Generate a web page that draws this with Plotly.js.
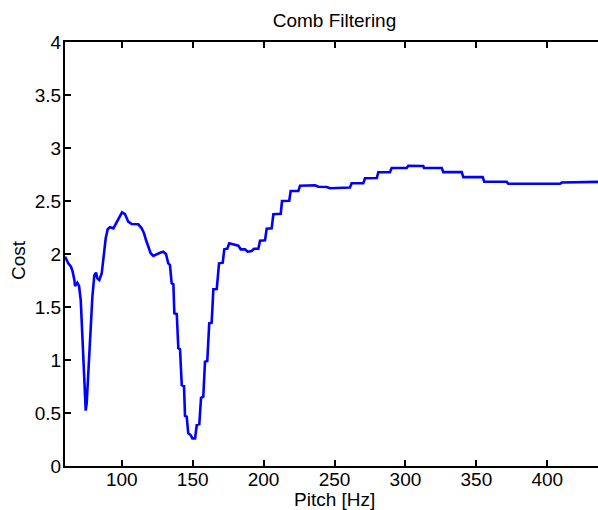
<!DOCTYPE html>
<html>
<head>
<meta charset="utf-8">
<script src="https://cdn.plot.ly/plotly-3.0.1.min.js"></script>
<style>
  html, body { margin: 0; padding: 0; overflow: hidden; background: #fff; }
  #chart { width: 606px; height: 510px; }
</style>
</head>
<body>
<div id="chart"></div>
<script>
// Pitch (Hz)
const pitch = [60.0, 62.3, 64.2, 65.4, 66.6, 67.1, 68.7, 69.9, 71.1, 71.8, 72.9, 73.9, 74.6, 75.3, 76.0, 77.1, 78.3, 79.3, 80.7, 81.9,
  82.8, 84.2, 85.9, 87.0, 88.7, 90.1, 91.7, 94.1, 95.3, 96.9, 98.8, 100.2, 102.3, 104.6, 107.0, 111.7, 114.1, 115.7, 117.1, 118.7,
  120.4, 122.3, 124.7, 127.0, 129.3, 131.2, 132.8, 134.0, 135.2, 136.4, 137.1, 138.8, 139.9, 141.1, 142.3, 143.9, 144.6, 145.8, 146.9, 148.6,
  149.8, 151.7, 152.9, 154.7, 155.9, 157.5, 158.7, 160.3, 161.7, 163.4, 164.6, 167.0, 168.6, 171.2, 172.3, 174.4, 175.8, 178.2, 179.9, 182.2,
  183.9, 186.9, 188.8, 191.6, 193.3, 196.3, 197.5, 201.0, 202.2, 205.7, 206.9, 212.1, 213.0, 218.1, 219.1, 224.5, 225.7, 230.4, 236.3, 238.6,
  244.5, 246.8, 252.7, 253.9, 260.9, 262.1, 270.3, 271.5, 279.8, 280.9, 289.1, 290.3, 300.9, 302.0, 312.6, 313.1, 325.6, 326.7, 339.7, 340.8,
  354.5, 355.6, 371.4, 372.5, 409.0, 410.2, 432.3, 434.4, 440.0];
// Cost
const cost = [1.975, 1.912, 1.880, 1.833, 1.755, 1.698, 1.729, 1.698, 1.566, 1.377, 1.000, 0.689, 0.522, 0.594, 0.783, 1.094, 1.377, 1.597, 1.802, 1.824,
  1.771, 1.755, 1.818, 1.975, 2.148, 2.233, 2.252, 2.242, 2.274, 2.314, 2.358, 2.393, 2.377, 2.305, 2.283, 2.280, 2.242, 2.195, 2.132, 2.069,
  2.007, 1.981, 2.000, 2.012, 2.022, 2.000, 1.912, 1.896, 1.724, 1.714, 1.441, 1.434, 1.110, 1.101, 0.764, 0.755, 0.472, 0.465, 0.308, 0.292,
  0.261, 0.261, 0.387, 0.396, 0.644, 0.654, 0.984, 0.991, 1.346, 1.352, 1.667, 1.670, 1.912, 1.918, 2.044, 2.050, 2.101, 2.094, 2.092, 2.078,
  2.044, 2.044, 2.022, 2.028, 2.050, 2.050, 2.125, 2.129, 2.239, 2.242, 2.375, 2.380, 2.500, 2.503, 2.594, 2.594, 2.644, 2.648, 2.648, 2.635,
  2.632, 2.620, 2.620, 2.627, 2.627, 2.667, 2.667, 2.714, 2.717, 2.771, 2.771, 2.811, 2.811, 2.833, 2.830, 2.811, 2.811, 2.772, 2.772, 2.725,
  2.725, 2.681, 2.681, 2.663, 2.663, 2.674, 2.675, 2.681, 2.681];

const xTicks = [100, 150, 200, 250, 300, 350, 400];
const yTicks = [0, 0.5, 1, 1.5, 2, 2.5, 3, 3.5, 4];
const yTickText = ['0', '0.5', '1', '1.5', '2', '2.5', '3', '3.5', '4'];

const FONT = 'Liberation Sans, Arial, Helvetica, sans-serif';

const trace = {
  x: pitch, y: cost, type: 'scatter', mode: 'lines',
  line: { color: '#0000ff', width: 2.6 },
  hoverinfo: 'skip'
};

const axisCommon = {
  showgrid: false, zeroline: false,
  showline: true, linecolor: '#000', linewidth: 2,
  mirror: 'ticks', ticks: 'inside', ticklen: 6, tickwidth: 2, tickcolor: '#000',
  tickfont: { family: FONT, size: 19, color: '#000' }
};

const layout = {
  width: 606, height: 510,
  margin: { l: 65, r: 2, t: 42, b: 44 },
  paper_bgcolor: '#fff', plot_bgcolor: '#fff',
  showlegend: false,
  font: { family: FONT, size: 19, color: '#000' },
  title: {
    text: 'Comb Filtering',
    font: { family: FONT, size: 19, color: '#000' },
    x: 0.5, xref: 'paper', xanchor: 'center',
    y: 1 - 20 / 510, yref: 'container', yanchor: 'middle'
  },
  xaxis: Object.assign({}, axisCommon, {
    range: [60, 440], tickmode: 'array', tickvals: xTicks,
    ticklabelstandoff: -5
  }),
  yaxis: Object.assign({}, axisCommon, {
    range: [0, 4], tickmode: 'array', tickvals: yTicks, ticktext: yTickText,
    ticklabelstandoff: -2
  }),
  annotations: [
    {
      text: 'Pitch [Hz]', showarrow: false,
      xref: 'paper', yref: 'paper', x: 0.5, y: 0,
      xanchor: 'center', yanchor: 'middle', yshift: -33,
      font: { family: FONT, size: 19, color: '#000' }
    },
    {
      text: 'Cost', showarrow: false, textangle: -90,
      xref: 'paper', yref: 'paper', x: 0, y: (466 - 260) / 424,
      xanchor: 'center', yanchor: 'middle', xshift: -47,
      font: { family: FONT, size: 19, color: '#000' }
    }
  ]
};

Plotly.newPlot('chart', [trace], layout, { displayModeBar: false, staticPlot: true });
</script>
</body>
</html>
